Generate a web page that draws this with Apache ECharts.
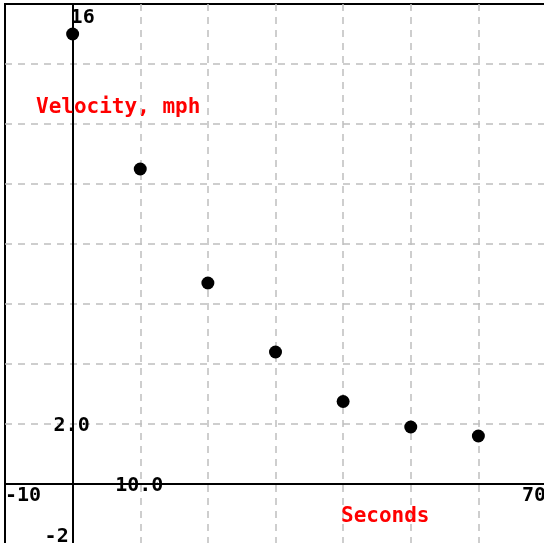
<!DOCTYPE html>
<html><head><meta charset="utf-8">
<script src="https://cdn.jsdelivr.net/npm/echarts@6/dist/echarts.min.js"></script>
<style>html,body{margin:0;padding:0;background:#fff}#c{width:544px;height:543px}</style>
</head><body><div id="c"></div>
<script>
// ---- data ----
const seconds = [0, 10, 20, 30, 40, 50, 60];
const velocity = [15.0, 10.5, 6.7, 4.4, 2.75, 1.9, 1.6];
const xTickValues = [-10, 10, 70];
const xTickLabels = ['-10', '10.0', '70'];
const yTickValues = [-2, 2, 16];
const yTickLabels = ['-2', '2.0', '16'];
const xTitle = 'Seconds';
const yTitle = 'Velocity, mph';
const xStyles = ['lo', 'mid', 'lo'];
const yStyles = ['bot', 'mid', 'top'];

function labeler(values, labels, styles) {
  return function (v) {
    const i = values.indexOf(Math.round(v * 1000) / 1000);
    return i >= 0 ? '{' + styles[i] + '|' + labels[i] + '}' : '';
  };
}

const FONT = 'DejaVu Sans Mono';
const txt = {color: '#000', fontFamily: FONT, fontWeight: 'bold', fontSize: 20};
const titleTxt = {color: '#ff0000', fontFamily: FONT, fontWeight: 'bold', fontSize: 21};
const gridLine = {show: true, showMinLine: false, showMaxLine: false,
  lineStyle: {color: '#bfbfbf', width: 1.5, type: [7, 6]}};
const axisLineStyle = {color: '#000', width: 2};

const xBase = {type: 'value', min: -10, max: 70, interval: 10, position: 'bottom', axisTick: {show: false}};
const yBase = {type: 'value', min: -2, max: 16, interval: 2, position: 'left', axisTick: {show: false}};

const chart = echarts.init(document.getElementById('c'));
chart.setOption({
  animation: false,
  backgroundColor: '#fff',
  grid: {left: 5, top: 4, width: 541, height: 540, show: true, borderColor: '#000', borderWidth: 2,
    backgroundColor: 'transparent', containLabel: false, outerBoundsMode: 'none'},
  title: [
    {text: yTitle, left: 36, top: 97, padding: 0, textStyle: titleTxt},
    {text: xTitle, left: 341, top: 506, padding: 0, textStyle: titleTxt}
  ],
  xAxis: [
    Object.assign({}, xBase, {z: 0, axisLine: {show: false, onZero: false},
      splitLine: gridLine, axisLabel: {show: false}}),
    Object.assign({}, xBase, {z: 1, axisLine: {show: true, onZero: false, lineStyle: axisLineStyle},
      splitLine: {show: false},
      axisLabel: Object.assign({}, txt, {interval: 0, margin: 0, verticalAlign: 'middle',
        showMinLabel: true, showMaxLabel: true, alignMinLabel: 'left', alignMaxLabel: 'right',
        formatter: labeler(xTickValues, xTickLabels, xStyles),
        rich: {
          lo: Object.assign({}, txt, {padding: [24, 0, 0, 0]}),
          mid: Object.assign({}, txt, {padding: [4, 2, 0, 0]})
        }})})
  ],
  yAxis: [
    Object.assign({}, yBase, {z: 0, axisLine: {show: false, onZero: false},
      splitLine: gridLine, axisLabel: {show: false}}),
    Object.assign({}, yBase, {z: 1, axisLine: {show: true, onZero: false, lineStyle: axisLineStyle},
      splitLine: {show: false},
      axisLabel: Object.assign({}, txt, {interval: 0, margin: 0, align: 'center', verticalAlign: 'middle',
        showMinLabel: true, showMaxLabel: true,
        formatter: labeler(yTickValues, yTickLabels, yStyles),
        rich: {
          bot: Object.assign({}, txt, {padding: [0, 32, 14, 0]}),
          mid: Object.assign({}, txt, {padding: [4, 2, 0, 0]}),
          top: Object.assign({}, txt, {padding: [28, 0, 0, 20]})
        }})})
  ],
  series: [{
    type: 'scatter', xAxisIndex: 1, yAxisIndex: 1, z: 5,
    symbol: 'circle', symbolSize: 13,
    itemStyle: {color: '#000', opacity: 1},
    data: seconds.map((s, i) => [s, velocity[i]])
  }]
});

// Move the main axes onto the origin, using the chart's own scales.
const origin = chart.convertToPixel({gridIndex: 0}, [0, 0]);
const corner = chart.convertToPixel({gridIndex: 0}, [xBase.min, yBase.min]);
chart.setOption({
  xAxis: [{}, {offset: origin[1] - corner[1]}],
  yAxis: [{}, {offset: corner[0] - origin[0]}]
});
</script></body></html>
